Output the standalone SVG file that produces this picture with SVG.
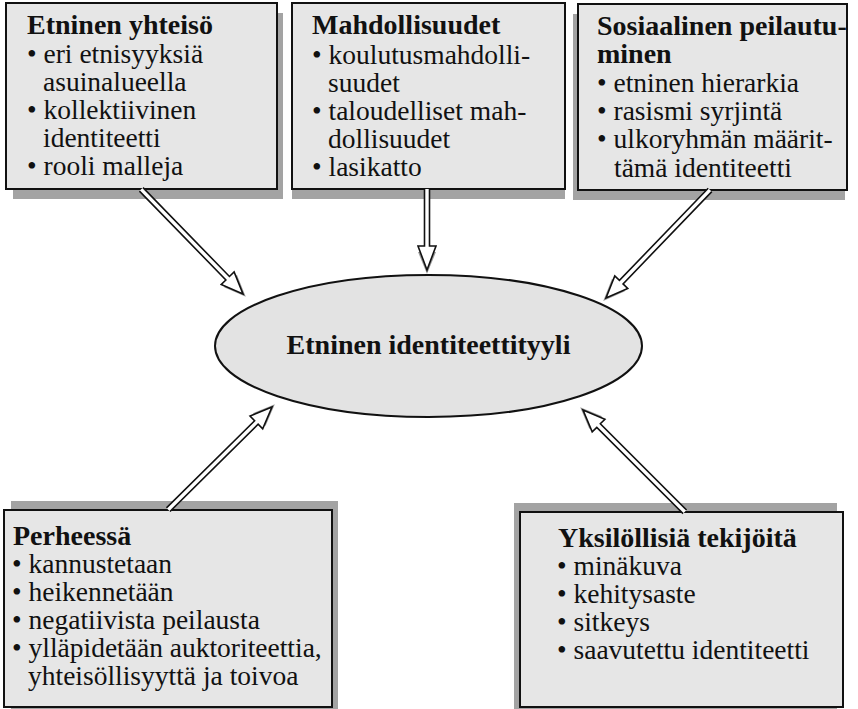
<svg xmlns="http://www.w3.org/2000/svg" width="858" height="709" viewBox="0 0 858 709">
<style>
  .box{fill:#e6e6e6;stroke:#111;stroke-width:2}
  .shadow{fill:#a3a3a3}
  .ell{fill:#e3e3e3;stroke:#111;stroke-width:2}
  .t{font-family:"Liberation Serif","Times New Roman",serif;font-size:27.5px;fill:#111}
  .h{font-weight:bold;font-size:28px}
  .arrow{fill:#fff;stroke:#111;stroke-width:1.6;stroke-linejoin:miter}
  .ash{fill:#9a9a9a}
</style>
<rect x="0" y="0" width="858" height="709" fill="#fff"/>

<g id="etninen-yhteiso">
  <rect class="shadow" x="13" y="13" width="270" height="186"/>
  <rect class="box" x="6" y="3" width="271" height="186"/>
  <text class="t h" x="27" y="34">Etninen yhteisö</text>
  <text class="t" x="27" y="63">• eri etnisyyksiä</text>
  <text class="t" x="43" y="91">asuinalueella</text>
  <text class="t" x="27" y="119">• kollektiivinen</text>
  <text class="t" x="43" y="147">identiteetti</text>
  <text class="t" x="27" y="175">• rooli malleja</text>
</g>

<g id="mahdollisuudet">
  <rect class="shadow" x="292" y="12" width="273" height="187"/>
  <rect class="box" x="292" y="3" width="273" height="186"/>
  <text class="t h" x="312" y="34">Mahdollisuudet</text>
  <text class="t" x="312" y="64">• koulutusmahdolli-</text>
  <text class="t" x="328" y="92">suudet</text>
  <text class="t" x="312" y="120">• taloudelliset mah-</text>
  <text class="t" x="328" y="148">dollisuudet</text>
  <text class="t" x="312" y="176">• lasikatto</text>
</g>

<g id="sosiaalinen-peilautuminen">
  <rect class="shadow" x="573" y="14" width="272" height="186"/>
  <rect class="box" x="578" y="4" width="269" height="186"/>
  <text class="t h" x="597" y="35">Sosiaalinen peilautu-</text>
  <text class="t h" x="597" y="63">minen</text>
  <text class="t" x="597" y="92">• etninen hierarkia</text>
  <text class="t" x="597" y="120">• rasismi syrjintä</text>
  <text class="t" x="597" y="148">• ulkoryhmän määrit-</text>
  <text class="t" x="614" y="177">tämä identiteetti</text>
</g>

<g id="etninen-identiteettityyli">
  <ellipse class="ell" cx="428.5" cy="346" rx="213.5" ry="71"/>
  <text class="t h" x="428.5" y="354" text-anchor="middle">Etninen identiteettityyli</text>
</g>

<g id="perheessa">
  <rect class="shadow" x="11" y="501" width="327" height="208"/>
  <rect class="box" x="4" y="510" width="328" height="197"/>
  <text class="t h" x="13" y="545">Perheessä</text>
  <text class="t" x="12" y="573">• kannustetaan</text>
  <text class="t" x="12" y="601">• heikennetään</text>
  <text class="t" x="12" y="629">• negatiivista peilausta</text>
  <text class="t" x="12" y="657">• ylläpidetään auktoriteettia,</text>
  <text class="t" x="28" y="685">yhteisöllisyyttä ja toivoa</text>
</g>

<g id="yksilollisia-tekijoita">
  <rect class="shadow" x="514" y="503" width="323" height="206"/>
  <rect class="box" x="520" y="512" width="323" height="195"/>
  <text class="t h" x="558" y="547">Yksilöllisiä tekijöitä</text>
  <text class="t" x="557" y="575">• minäkuva</text>
  <text class="t" x="557" y="603">• kehitysaste</text>
  <text class="t" x="557" y="631">• sitkeys</text>
  <text class="t" x="557" y="659">• saavutettu identiteetti</text>
</g>

<g id="connectors">
  <g transform="translate(243,294) rotate(45.8)">
    <path class="ash" d="M4,0 L-18,-9 L-18,9 Z"/>
    <path class="arrow" d="M-146,-2.5 L-22,-2.5 L-22,-9 L0,0 L-22,9 L-22,2.5 L-146,2.5"/>
  </g>
  <g transform="translate(427,270) rotate(90)">
    <path class="ash" d="M4,0 L-18,-9 L-18,9 Z"/>
    <path class="arrow" d="M-81,-2.5 L-24,-2.5 L-24,-9 L0,0 L-24,9 L-24,2.5 L-81,2.5"/>
  </g>
  <g transform="translate(606,298) rotate(133.9)">
    <path class="ash" d="M4,0 L-18,-9 L-18,9 Z"/>
    <path class="arrow" d="M-150,-2.5 L-22,-2.5 L-22,-9 L0,0 L-22,9 L-22,2.5 L-150,2.5"/>
  </g>
  <g transform="translate(272,407) rotate(-44.7)">
    <path class="ash" d="M4,0 L-18,-9 L-18,9 Z"/>
    <path class="arrow" d="M-146,-2.5 L-22,-2.5 L-22,-9 L0,0 L-22,9 L-22,2.5 L-146,2.5"/>
  </g>
  <g transform="translate(583,410) rotate(-135)">
    <path class="ash" d="M4,0 L-18,-9 L-18,9 Z"/>
    <path class="arrow" d="M-144,-2.5 L-22,-2.5 L-22,-9 L0,0 L-22,9 L-22,2.5 L-144,2.5"/>
  </g>
</g>
</svg>
